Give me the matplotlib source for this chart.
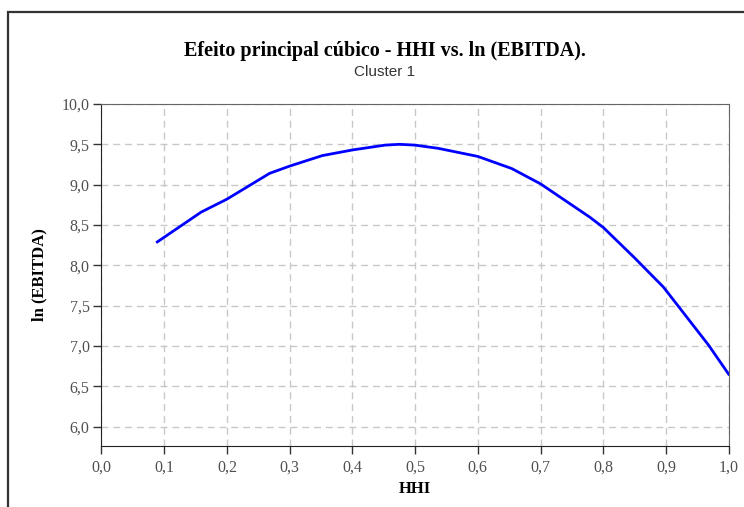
import matplotlib
matplotlib.use("Agg")
import matplotlib.pyplot as plt
from matplotlib.patches import Rectangle
from matplotlib.ticker import FuncFormatter

# curve (HHI vs fitted ln(EBITDA))
hhi = [0.089, 0.159, 0.200, 0.268, 0.300, 0.352, 0.400, 0.452, 0.475,
       0.500, 0.537, 0.600, 0.654, 0.700, 0.778, 0.800, 0.849, 0.896,
       0.968, 1.000]
ln_ebitda = [8.29, 8.66, 8.82, 9.14, 9.23, 9.36, 9.43, 9.49, 9.50,
             9.49, 9.45, 9.35, 9.20, 9.01, 8.60, 8.47, 8.10, 7.73,
             7.01, 6.65]

x_ticks = [0.0, 0.1, 0.2, 0.3, 0.4, 0.5, 0.6, 0.7, 0.8, 0.9, 1.0]
y_ticks = [6.0, 6.5, 7.0, 7.5, 8.0, 8.5, 9.0, 9.5, 10.0]

title = "Efeito principal cúbico - HHI vs. ln (EBITDA)."
subtitle = "Cluster 1"

serif = ["Liberation Serif", "DejaVu Serif"]
comma = FuncFormatter(lambda v, _: f"{v:.1f}".replace(".", ","))

fig = plt.figure(figsize=(7.44, 5.07), dpi=100)
fig.patch.set_facecolor("white")
ax = fig.add_axes([0.1364, 0.1203, 0.9794 - 0.1364, 0.7949 - 0.1203])

ax.plot(hhi, ln_ebitda, color="#0000ff", lw=2)

ax.set_xlim(0.0, 1.0)
ax.set_ylim(5.76, 10.0)
ax.set_xticks(x_ticks)
ax.set_yticks(y_ticks)
ax.xaxis.set_major_formatter(comma)
ax.yaxis.set_major_formatter(comma)
ax.grid(True, color="#c8c8c8", linestyle=(0, (5, 3.5)), lw=1)
ax.tick_params(direction="out", length=6, width=1, colors="#333333",
               labelcolor="#505050", labelsize=11.5)
ax.tick_params(axis="x", pad=4)
ax.tick_params(axis="y", pad=2.5)
for lbl in ax.get_xticklabels() + ax.get_yticklabels():
    lbl.set_family(serif)

for side in ("left", "bottom"):
    ax.spines[side].set_color("#222222")
for side in ("top", "right"):
    ax.spines[side].set_color("#666666")

ax.set_xlabel("HHI", family=serif, fontweight="bold", fontsize=12, labelpad=4)
ax.set_ylabel("ln (EBITDA)", family=serif, fontweight="bold", fontsize=12,
              labelpad=10)

fig.text(0.5175, 0.9, title, ha="center", va="center", family=serif,
         fontweight="bold", fontsize=14.5)
fig.text(0.5175, 0.858, subtitle, ha="center", va="center",
         family=["Liberation Sans", "DejaVu Sans"], fontsize=11,
         color="#333333")

# outer panel border, running off the right and bottom edges
fig.patches.append(Rectangle((8 / 744, -0.05), 1.0, 1 - 12 / 507 + 0.05,
                             transform=fig.transFigure, fill=False,
                             edgecolor="#333333", lw=1.6, clip_on=False))

fig.savefig("out.png", dpi=100)
